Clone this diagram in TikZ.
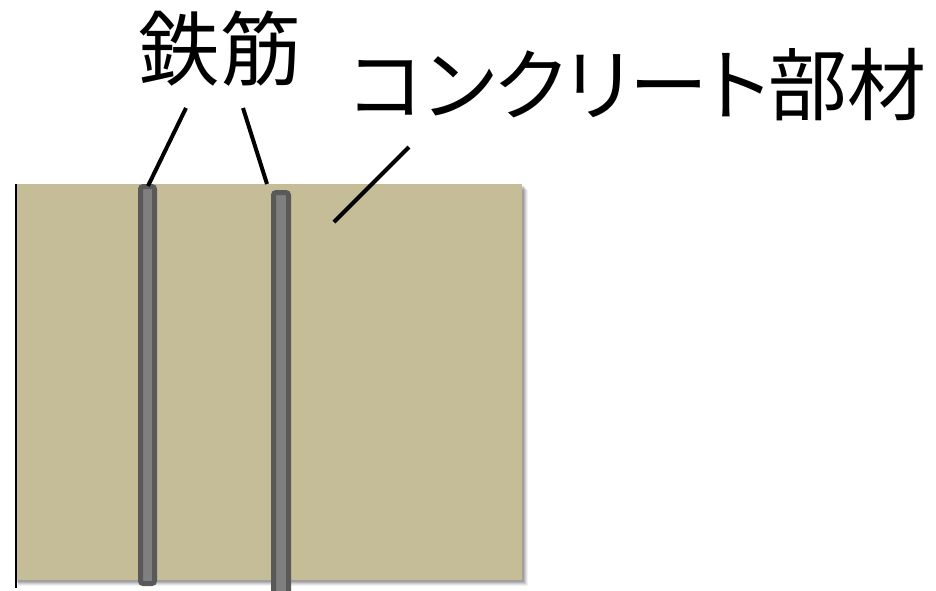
\documentclass[tikz,border=0pt]{standalone}
\usepackage{fontspec}
\newfontfamily\jp[RawFeature=+palt]{Noto Sans CJK JP}
\definecolor{concrete}{HTML}{C4BD97}
\definecolor{rebaredge}{HTML}{595959}
\definecolor{rebarfill}{HTML}{7F7F7F}
\begin{document}
\begin{tikzpicture}[x=0.75pt,y=-0.75pt,
  label/.style={font=\jp\fontsize{61}{61}\selectfont, inner sep=0pt, anchor=center},
  rebar/.style={draw=rebaredge, fill=rebarfill, line width=3.75pt, rounded corners=2pt},
  leader/.style={draw=black, line width=3pt}]
\useasboundingbox (0,0) rectangle (936,590);
\begin{scope}
\clip (0,0) rectangle (936,590);
% shadow
\foreach \d/\o in {6/0.05,5/0.07,4/0.09,3/0.11,2/0.12}{
  \fill[black, opacity=\o] (16+\d*0.4,184+\d) rectangle (522+\d,580+\d);
}
\fill[concrete] (16,184) rectangle (522,580);
\draw[line width=1.2pt] (16,184) -- (16,588);
\draw[rebar] (140.5,186.5) rectangle (154.5,583.5);
\draw[rebar] (273.5,192.5) rectangle (288.5,596);
\end{scope}
\coordinate (r1top) at (148,186);
\coordinate (r2top) at (267,184);
\coordinate (cpt) at (334,222);
\node[label] (tekkin) at (220,49) {鉄筋};
\node[label, font=\jp\fontsize{59.2}{59.2}\selectfont] (concr) at (638,85) {コンクリート部材};
\coordinate (t1) at (186,108);
\coordinate (t2) at (243,108);
\coordinate (t3) at (409,147);
\draw[leader] (t1) -- (r1top);
\draw[leader] (t2) -- (r2top);
\draw[leader] (t3) -- (cpt);
\end{tikzpicture}
\end{document}
